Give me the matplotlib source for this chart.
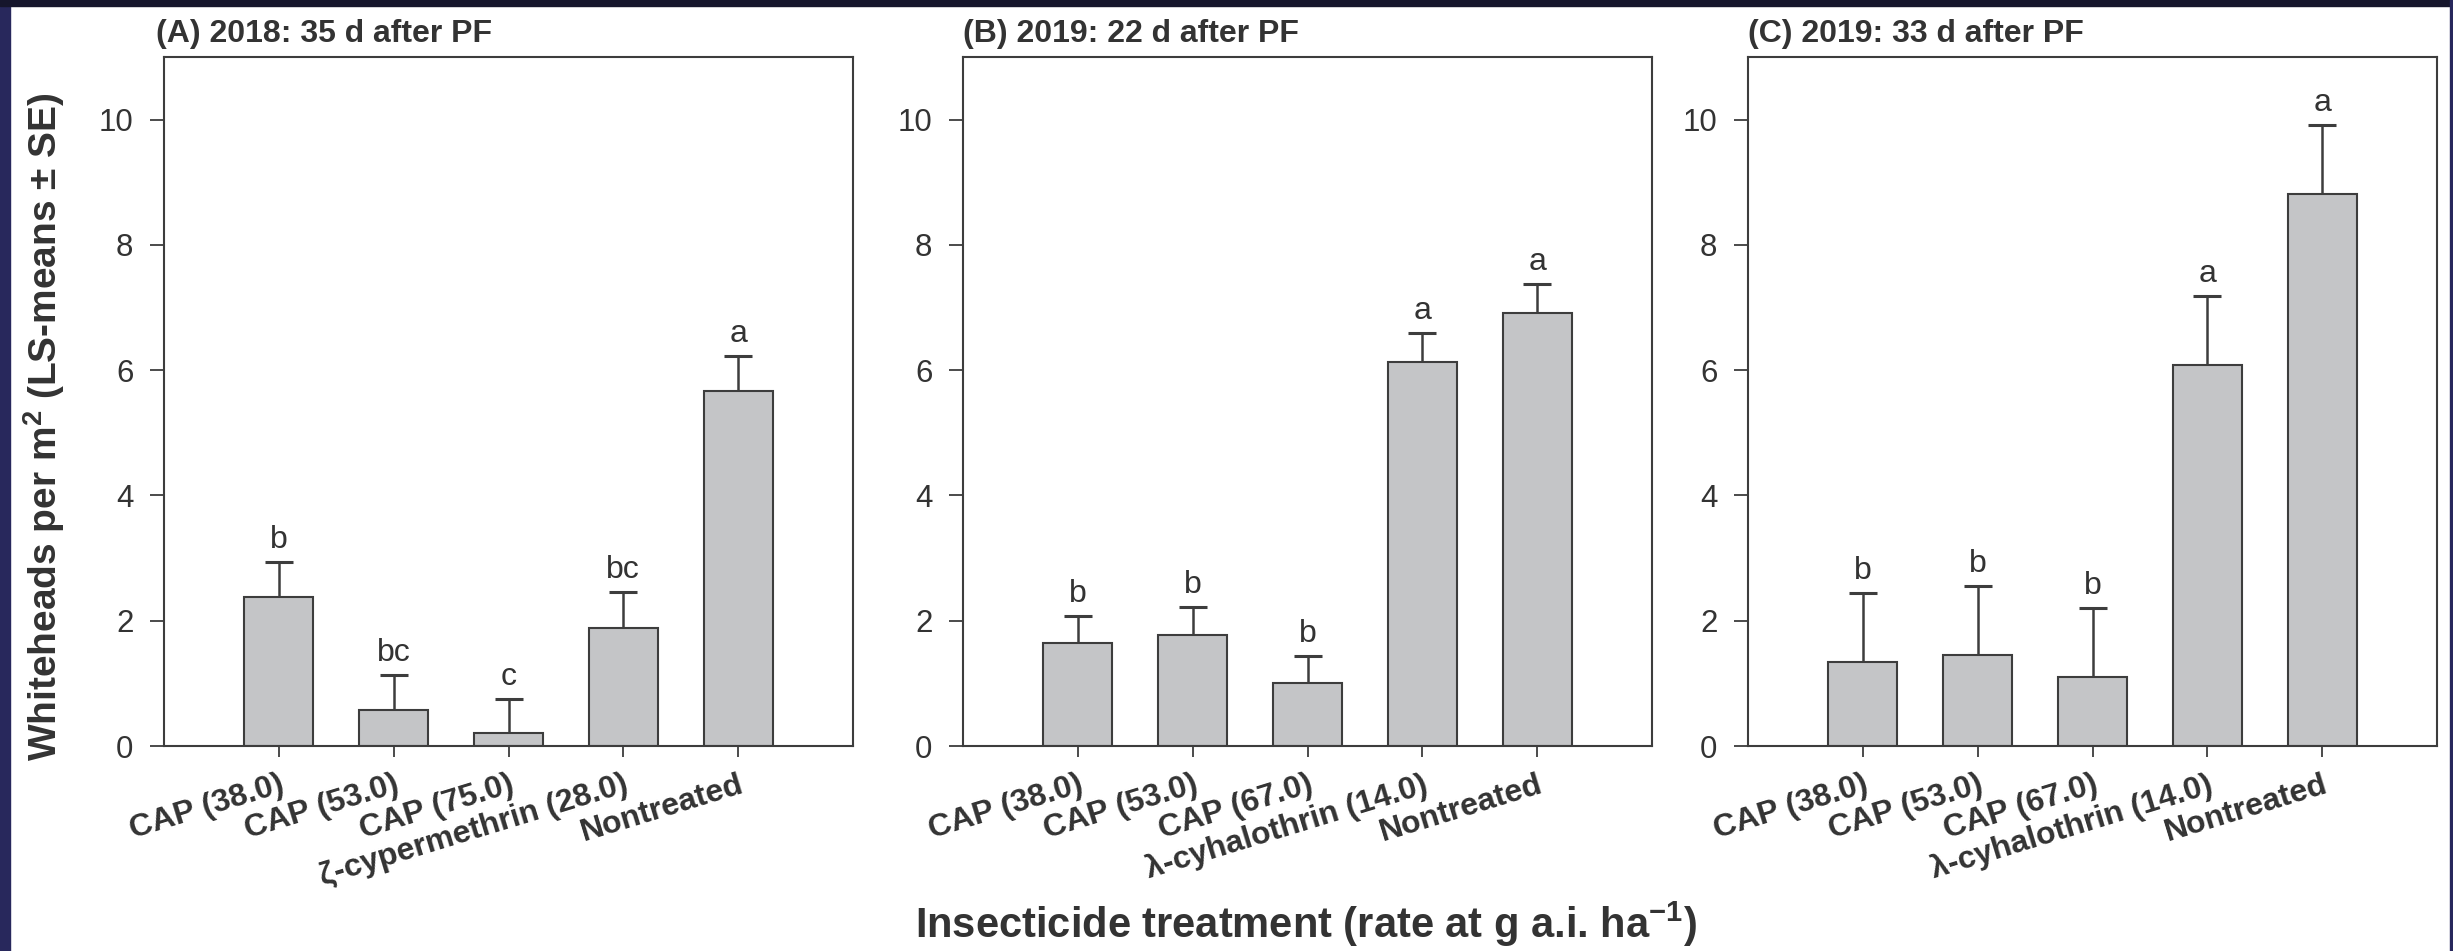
import numpy as np
import matplotlib
matplotlib.use("Agg")
from matplotlib import pyplot as plt
from matplotlib.patches import Rectangle

# data (LS-means and upper SE)
titles = ["(A) 2018: 35 d after PF", "(B) 2019: 22 d after PF", "(C) 2019: 33 d after PF"]

labels_a = ["CAP (38.0)", "CAP (53.0)", "CAP (75.0)", "ζ-cypermethrin (28.0)", "Nontreated"]
labels_bc = ["CAP (38.0)", "CAP (53.0)", "CAP (67.0)", "λ-cyhalothrin (14.0)", "Nontreated"]

means_a = [2.38, 0.58, 0.20, 1.89, 5.66]
se_a = [0.56, 0.55, 0.55, 0.57, 0.56]
letters_a = ["b", "bc", "c", "bc", "a"]

means_b = [1.65, 1.77, 1.00, 6.13, 6.92]
se_b = [0.43, 0.45, 0.43, 0.46, 0.46]
letters_b = ["b", "b", "b", "a", "a"]

means_c = [1.34, 1.45, 1.10, 6.08, 8.82]
se_c = [1.11, 1.10, 1.10, 1.10, 1.10]
letters_c = ["b", "b", "b", "a", "a"]

yticks = [0, 2, 4, 6, 8, 10]

txt = "#333333"
edge = "#3d3d3d"
fill = "#c4c5c7"

plt.rcParams["font.family"] = ["Liberation Sans", "DejaVu Sans"]
plt.rcParams["mathtext.fontset"] = "custom"
plt.rcParams["mathtext.rm"] = "Liberation Sans"
plt.rcParams["mathtext.bf"] = "Liberation Sans:bold"
plt.rcParams["text.color"] = txt
plt.rcParams["axes.edgecolor"] = edge
plt.rcParams["xtick.color"] = edge
plt.rcParams["ytick.color"] = edge
plt.rcParams["xtick.labelcolor"] = txt
plt.rcParams["ytick.labelcolor"] = txt

fig = plt.figure(figsize=(24.53, 9.51), dpi=100)

# dark frame of the original slide
fig.patches.append(Rectangle((0, 0), 10 / 2453, 1, transform=fig.transFigure,
                             color="#28285c", zorder=0))
fig.patches.append(Rectangle((0, 1 - 6 / 951), 1, 6 / 951, transform=fig.transFigure,
                             color="#16162c", zorder=0))
fig.patches.append(Rectangle((1 - 3 / 2453, 0), 3 / 2453, 1, transform=fig.transFigure,
                             color="#28285c", zorder=0))

lefts = [164 / 2453, 963 / 2453, 1748 / 2453]
width = 689 / 2453
bottom = 205 / 951
height = 689 / 951

panels = [
    (labels_a, means_a, se_a, letters_a),
    (labels_bc, means_b, se_b, letters_b),
    (labels_bc, means_c, se_c, letters_c),
]

for k, (labs, means, se, letters) in enumerate(panels):
    ax = fig.add_axes([lefts[k], bottom, width, height])
    x = np.arange(len(means))
    ax.bar(x, means, width=0.6, color=fill, edgecolor=edge, linewidth=1.5, zorder=2)
    eb = ax.errorbar(x, means, yerr=[np.zeros(len(se)), se], fmt="none", ecolor=edge,
                     elinewidth=1.8, capsize=10, capthick=2.2, zorder=3)
    eb[1][0].set_visible(False)  # only the upper cap
    for xi, m, s, l in zip(x, means, se, letters):
        ax.annotate(l, (xi, m + s), xytext=(0, 5), textcoords="offset points",
                    ha="center", va="bottom", fontsize=23, color=txt)
    ax.set_xlim(-1, 5)
    ax.set_ylim(0, 11)
    ax.set_yticks(yticks)
    ax.set_xticks(x)
    ax.set_xticklabels(labs, rotation=17, ha="right", rotation_mode="anchor",
                       fontsize=23, fontweight="bold")
    ax.tick_params(axis="y", length=10, width=1.3, pad=12, labelsize=22.5)
    ax.tick_params(axis="x", length=8, width=1.3, pad=9)
    for sp in ax.spines.values():
        sp.set_linewidth(1.5)
    ax.text(0 if k > 0 else -0.012, 1.012, titles[k], transform=ax.transAxes,
            ha="left", va="bottom", fontsize=23, fontweight="bold", color=txt)

fig.text(0.018, 0.551, r"Whiteheads per m$^{\mathbf{2}}$ (LS-means ± SE)", rotation=90,
         ha="center", va="center", fontsize=28, fontweight="bold", color=txt)
fig.text(0.5325, 0.028, r"Insecticide treatment (rate at g a.i. ha$^{\mathbf{-1}}$)",
         ha="center", va="center", fontsize=30, fontweight="bold", color=txt)

fig.savefig("out.png", dpi=100)
